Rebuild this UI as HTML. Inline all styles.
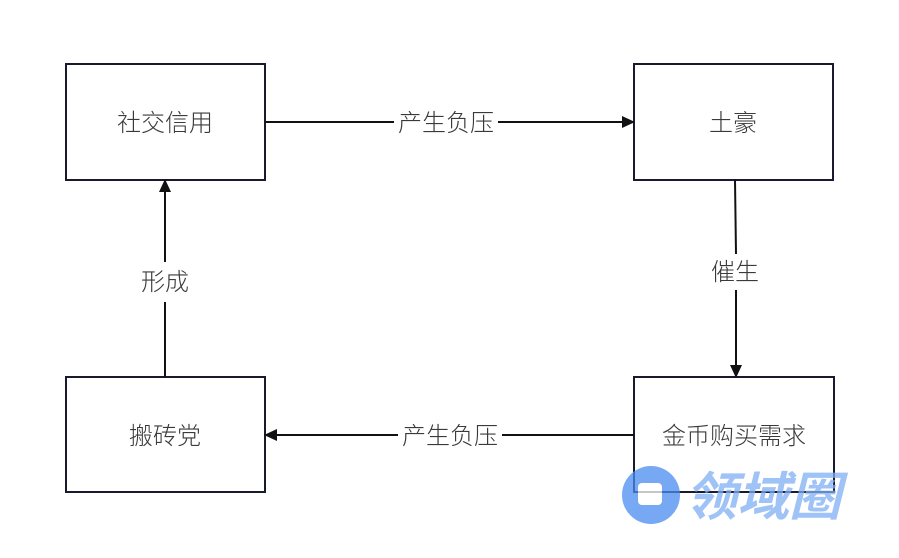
<!DOCTYPE html>
<html><head><meta charset="utf-8"><style>
html,body{margin:0;padding:0;background:#fff;width:899px;height:558px;overflow:hidden}
text{font-family:"Liberation Sans","Noto Sans CJK SC",sans-serif;fill:#3a3a3a;font-size:24px;font-weight:300}
</style></head><body>
<svg width="899" height="558" xmlns="http://www.w3.org/2000/svg">
<defs><marker id="a" markerWidth="13" markerHeight="12" refX="12" refY="6" orient="auto" markerUnits="userSpaceOnUse"><path d="M0,0 L13,6 L0,12 z" fill="#111"/></marker></defs>
<g fill="none" stroke="#1a1a2e" stroke-width="2">
<rect x="66" y="64" width="199" height="116"/>
<rect x="634" y="64" width="199" height="116"/>
<rect x="66" y="377" width="199" height="115"/>
<rect x="634" y="377" width="200" height="115"/>
</g>
<g stroke="#111" stroke-width="2" fill="none">
<line x1="265" y1="122" x2="394" y2="122"/>
<line x1="498" y1="122" x2="634" y2="122" marker-end="url(#a)"/>
<line x1="735" y1="180" x2="736" y2="254"/>
<line x1="736" y1="290" x2="736" y2="377" marker-end="url(#a)"/>
<line x1="634" y1="435" x2="502" y2="435"/>
<line x1="398" y1="435" x2="265" y2="435" marker-end="url(#a)"/>
<line x1="165" y1="377" x2="165" y2="302"/>
<line x1="165" y1="262" x2="165" y2="180" marker-end="url(#a)"/>
</g>
<text x="165" y="131" text-anchor="middle">社交信用</text>
<text x="733" y="131" text-anchor="middle">土豪</text>
<text x="165" y="444" text-anchor="middle">搬砖党</text>
<text x="734" y="444" text-anchor="middle">金币购买需求</text>
<text x="446" y="131" text-anchor="middle">产生负压</text>
<text x="450" y="444" text-anchor="middle">产生负压</text>
<text x="735" y="280" text-anchor="middle">催生</text>
<text x="165" y="290" text-anchor="middle">形成</text>
<g opacity="0.75">
<circle cx="651" cy="495" r="29" fill="#4a8cf0"/>
<rect x="638" y="483" width="24" height="22" rx="4" fill="#fff"/>
<text x="685" y="515" style="font-size:52px;font-weight:bold;fill:#7fb0f5;font-style:italic">领域圈</text>
</g>
</svg>
</body></html>
